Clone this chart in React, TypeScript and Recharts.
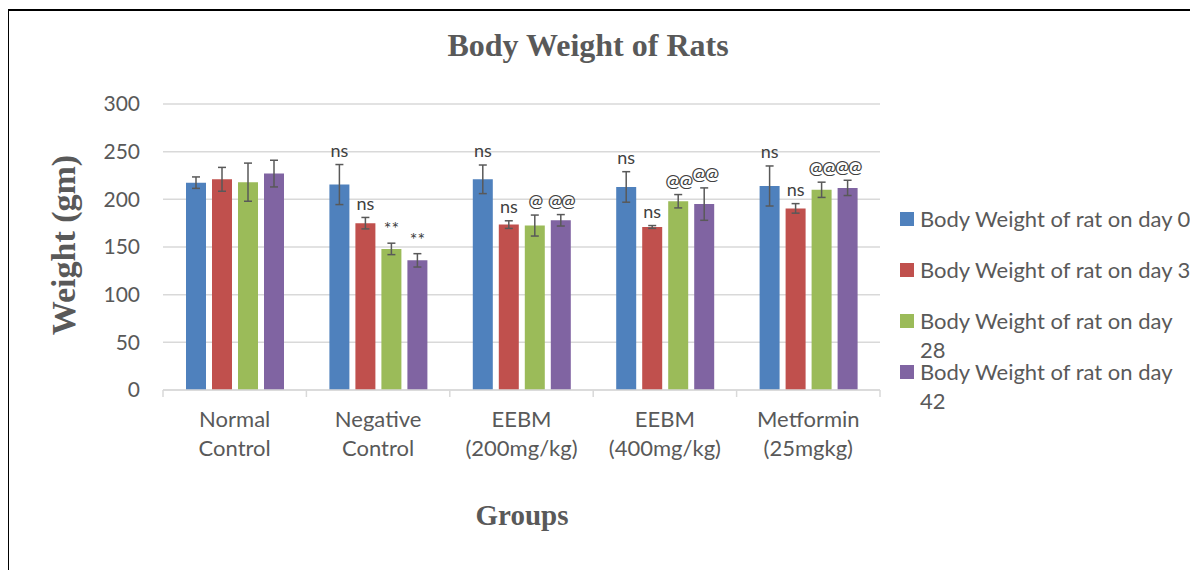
import { BarChart, Bar, XAxis, YAxis, CartesianGrid, ErrorBar, LabelList } from "recharts";

// groups on the category axis
const groups = ["Normal Control", "Negative Control", "EEBM (200mg/kg)", "EEBM (400mg/kg)", "Metformin (25mgkg)"];

// mean body weight (gm) and SEM per group
const day0 = [217.5, 215.5, 221, 213, 214];
const day0Err = [6, 21, 15, 16, 21];
const day3 = [221, 175, 173.5, 171, 190.5];
const day3Err = [12.5, 6, 4, 1.5, 5];
const day28 = [218, 148, 172.5, 198, 210];
const day28Err = [20, 6, 11, 7, 8];
const day42 = [227, 136, 178, 195, 212];
const day42Err = [14, 7, 6, 17, 8];

// significance marks above each bar
const day0Marks = ["", "ns", "ns", "ns", "ns"];
const day3Marks = ["", "ns", "ns", "ns", "ns"];
const day28Marks = ["", "**", "@", "@@", "@@"];
const day42Marks = ["", "**", "@@", "@@", "@@"];

const yTicks = [0, 50, 100, 150, 200, 250, 300];

const series = [
  { key: "day0", name: "Body Weight of rat on day 0", color: "#4f81bd", values: day0, errors: day0Err, marks: day0Marks },
  { key: "day3", name: "Body Weight of rat on day 3", color: "#c0504d", values: day3, errors: day3Err, marks: day3Marks },
  { key: "day28", name: "Body Weight of rat on day 28", color: "#9bbb59", values: day28, errors: day28Err, marks: day28Marks },
  { key: "day42", name: "Body Weight of rat on day 42", color: "#8064a2", values: day42, errors: day42Err, marks: day42Marks },
];

const rows = groups.map((g, i) => {
  const row: Record<string, string | number> = { group: g };
  series.forEach((s) => {
    row[s.key] = s.values[i];
    row[s.key + "Err"] = s.errors[i];
  });
  return row;
});

const W = 1180;
const H = 560;
const MARGIN = { top: 93, right: 309, bottom: 101, left: 94 };
const Y_AXIS_W = 60;
const BAND = (W - MARGIN.left - MARGIN.right - Y_AXIS_W) / groups.length;

const SANS = "Lato, 'Open Sans', sans-serif";
const SERIF = "'Liberation Serif', 'Times New Roman', serif";
const TEXT = "#595959";
const GRID = "#d9d9d9";

const GroupTick = (props: any) => {
  const { x, y, payload, index } = props;
  const words = String(payload.value).split(" ");
  const left = x - BAND / 2;
  const right = x + BAND / 2;
  return (
    <g>
      <line x1={left} x2={left} y1={y} y2={y + 7} stroke={GRID} strokeWidth={1.5} />
      {index === groups.length - 1 && <line x1={right} x2={right} y1={y} y2={y + 7} stroke={GRID} strokeWidth={1.5} />}
      <text x={x} y={y} textAnchor="middle" fill={TEXT} fontSize={22} fontFamily={SANS}>
        <tspan x={x} dy={37}>{words[0]}</tspan>
        <tspan x={x} dy={29}>{words.slice(1).join(" ")}</tspan>
      </text>
    </g>
  );
};

// mark text sits a little above the top of the error bar
const markLabel = (marks: string[], errors: number[]) => (props: any) => {
  const { x, y, width, height, value, index } = props;
  const text = marks[index];
  if (!text) return null;
  const perUnit = Number(height) / Number(value);
  const top = Number(y) - errors[index] * perUnit;
  return (
    <text
      x={Number(x) + Number(width) / 2}
      y={top - 14}
      dy="0.35em"
      textAnchor="middle"
      fill="#404040"
      fontSize={18}
      letterSpacing={text.startsWith("@") ? -2 : 0}
      fontFamily={SANS}
    >
      {text}
    </text>
  );
};

export default function App() {
  return (
    <div
      style={{
        position: "relative",
        left: -1,
        top: 1,
        width: 1186,
        height: 560,
        borderTop: "2px solid #000",
        borderLeft: "2px solid #000",
        background: "#fff",
      }}
    >
      <div style={{ position: "absolute", left: 0, top: 0 }}>
        <BarChart width={W} height={H} data={rows} margin={MARGIN} barSize={20} barGap={6}>
          <CartesianGrid vertical={false} stroke={GRID} strokeWidth={1.5} />
          <XAxis
            dataKey="group"
            interval={0}
            axisLine={{ stroke: GRID, strokeWidth: 1.5 }}
            tickLine={false}
            tickSize={0}
            tickMargin={0}
            height={80}
            tick={<GroupTick />}
          />
          <YAxis
            width={Y_AXIS_W}
            domain={[0, 300]}
            ticks={yTicks}
            axisLine={false}
            tickLine={false}
            tickMargin={17}
            tick={{ fill: TEXT, fontSize: 21, fontFamily: SANS }}
          />
          {series.map((s) => (
            <Bar key={s.key} dataKey={s.key} name={s.name} fill={s.color} isAnimationActive={false}>
              <ErrorBar dataKey={s.key + "Err"} direction="y" width={4} stroke="#595959" strokeWidth={1.5} />
              <LabelList dataKey={s.key} content={markLabel(s.marks, s.errors)} />
            </Bar>
          ))}
        </BarChart>
      </div>

      <svg width={W} height={H} style={{ position: "absolute", left: 0, top: 0, pointerEvents: "none" }}>
        <text x={579} y={45} textAnchor="middle" fill={TEXT} fontSize={32} fontWeight="bold" fontFamily={SERIF}>
          Body Weight of Rats
        </text>
        <text x={66} y={234} textAnchor="middle" fill={TEXT} fontSize={34} fontWeight="bold" fontFamily={SERIF} transform="rotate(-90, 66, 234)">
          Weight (gm)
        </text>
        <text x={513} y={514} textAnchor="middle" fill={TEXT} fontSize={29} fontWeight="bold" fontFamily={SERIF}>
          Groups
        </text>
      </svg>

      <div style={{ position: "absolute", left: 891, top: 193 }}>
        {series.map((s) => (
          <div key={s.key} style={{ position: "relative", height: 51 }}>
            <span style={{ position: "absolute", left: 0, top: 8, width: 14, height: 14, background: s.color }} />
            <div
              style={{
                position: "absolute",
                left: 20,
                top: 0,
                width: 277,
                lineHeight: "29px",
                fontSize: 22,
                fontFamily: SANS,
                color: TEXT,
              }}
            >
              {s.name}
            </div>
          </div>
        ))}
      </div>
    </div>
  );
}
